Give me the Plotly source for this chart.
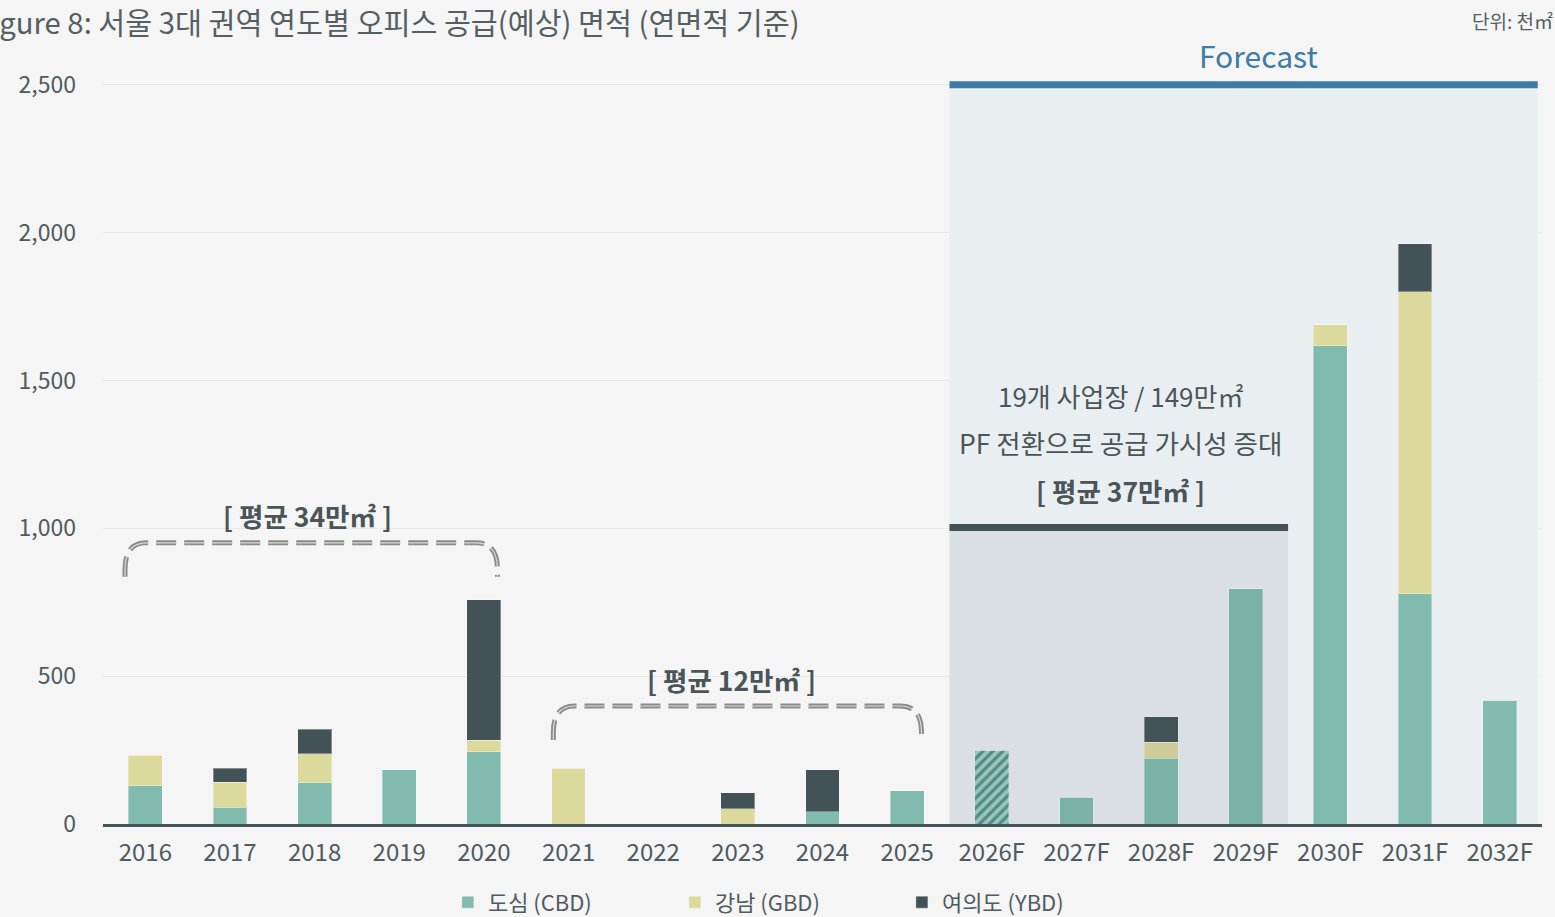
import plotly.graph_objects as go

# ---- data (천㎡) ----
categories = ["2016", "2017", "2018", "2019", "2020", "2021", "2022", "2023", "2024", "2025",
              "2026F", "2027F", "2028F", "2029F", "2030F", "2031F", "2032F"]
cbd = [130, 57, 139, 183, 244, 0, 0, 0, 41, 112, 250, 91, 223, 795, 1617, 778, 419]
gbd = [103, 85, 98, 0, 40, 189, 0, 51, 0, 0, 0, 0, 54, 0, 71, 1022, 0]
ybd = [0, 47, 84, 0, 474, 0, 0, 54, 142, 0, 0, 0, 85, 0, 0, 162, 0]
series_names = ["도심 (CBD)", "강남 (GBD)", "여의도 (YBD)"]
y_ticks = [0, 500, 1000, 1500, 2000, 2500]
hatched = ["2026F"]

FONT = "Noto Sans CJK KR"
C_CBD = "#80bbad"
C_GBD = "#dcd99d"
C_YBD = "#425256"
TXT = "#4f5b5e"

xs = list(range(len(categories)))

fig = go.Figure()
cbd_pattern = ["/" if c in hatched else "" for c in categories]
fig.add_trace(go.Bar(
    x=xs, y=cbd, name=series_names[0],
    marker=dict(color=C_CBD, line=dict(width=1, color="rgba(255,255,255,0.35)"),
                pattern=dict(shape=cbd_pattern, fgcolor="#4a9488", bgcolor="#a6cdc4",
                             size=7, solidity=0.45, fillmode="replace")),
))
fig.add_trace(go.Bar(x=xs, y=gbd, name=series_names[1],
                     marker=dict(color=C_GBD, line=dict(width=1, color="rgba(255,255,255,0.35)"))))
fig.add_trace(go.Bar(x=xs, y=ybd, name=series_names[2],
                     marker=dict(color=C_YBD, line=dict(width=1, color="rgba(255,255,255,0.35)"))))

shapes = []
# forecast region
shapes.append(dict(type="rect", xref="x", yref="y", x0=9.5, x1=16.45, y0=0, y1=2500,
                   fillcolor="#e9eef1", line=dict(width=0), layer="between"))
shapes.append(dict(type="line", xref="x", yref="y", x0=9.5, x1=16.45, y0=2500, y1=2500,
                   line=dict(color="#3e7ca6", width=7), layer="above"))
# near-term region
shapes.append(dict(type="rect", xref="x", yref="y", x0=9.5, x1=13.5, y0=0, y1=990,
                   fillcolor="rgba(80,95,110,0.10)", line=dict(width=0), layer="above"))
shapes.append(dict(type="line", xref="x", yref="y", x0=9.5, x1=13.5, y0=1003, y1=1003,
                   line=dict(color="#445256", width=7), layer="above"))


def bracket(x0, x1, yb, yt, dx=0.25, dy=90):
    ym = yt - dy
    return (f"M {x0},{yb} L {x0},{ym} Q {x0},{yt} {x0+dx},{yt} "
            f"L {x1-dx},{yt} Q {x1},{yt} {x1},{ym} L {x1},{yb}")


for (bx0, bx1, byb, byt) in [(-0.24, 4.16, 836, 951), (4.82, 9.17, 284, 399)]:
    p = bracket(bx0, bx1, byb, byt)
    shapes.append(dict(type="path", xref="x", yref="y", path=p,
                       line=dict(color="#8c8c8c", width=5, dash="20px,8px"), layer="above"))
    shapes.append(dict(type="path", xref="x", yref="y", path=p,
                       line=dict(color="#d8d8d8", width=1.2, dash="20px,8px"), layer="above"))

annotations = [
    dict(xref="paper", yref="paper", x=-0.090, y=1.061, xanchor="left", yanchor="middle",
         text="Figure 8: 서울 3대 권역 연도별 오피스 공급(예상) 면적 (연면적 기준)",
         showarrow=False, font=dict(family=FONT, size=29.3, color="#555f62")),
    dict(xref="paper", yref="paper", x=1.009, y=1.062, xanchor="right", yanchor="middle",
         text="단위: 천㎡", showarrow=False, font=dict(family=FONT, size=19, color="#555f62")),
    dict(xref="x", yref="paper", x=13.15, y=1.016, xanchor="center", yanchor="middle",
         text="Forecast", showarrow=False, font=dict(family=FONT, size=30, color="#3e7ca6")),
    dict(xref="x", yref="y", x=11.52, y=1448, text="19개 사업장 / 149만㎡", showarrow=False,
         font=dict(family=FONT, size=26, color="#4a5558")),
    dict(xref="x", yref="y", x=11.52, y=1289, text="PF 전환으로 공급 가시성 증대", showarrow=False,
         font=dict(family=FONT, size=26.5, color="#4a5558")),
    dict(xref="x", yref="y", x=11.52, y=1127, text="<b>[ 평균 37만㎡ ]</b>", showarrow=False,
         font=dict(family=FONT, size=26.5, color="#4a5558")),
    dict(xref="x", yref="y", x=1.92, y=1042, text="<b>[ 평균 34만㎡ ]</b>", showarrow=False,
         font=dict(family=FONT, size=26.5, color="#4a5558")),
    dict(xref="x", yref="y", x=6.92, y=487, text="<b>[ 평균 12만㎡ ]</b>", showarrow=False,
         font=dict(family=FONT, size=26.5, color="#4a5558")),
]

fig.update_layout(
    width=1555, height=917,
    margin=dict(l=103, r=13, t=67, b=93, autoexpand=False),
    paper_bgcolor="#f5f5f5", plot_bgcolor="#f5f5f5",
    barmode="stack", bargap=0.6,
    font=dict(family=FONT, color=TXT),
    shapes=shapes, annotations=annotations,
    showlegend=True,
    legend=dict(orientation="h", xref="container", yref="container",
                x=0.507, xanchor="center", y=0.016, yanchor="middle",
                font=dict(family=FONT, size=22, color=TXT),
                entrywidth=182, entrywidthmode="pixels", traceorder="normal",
                bgcolor="rgba(0,0,0,0)"),
)
fig.update_xaxes(range=[-0.5, 16.5], tickmode="array", tickvals=xs, ticktext=categories,
                 showgrid=False, showline=True, linecolor="#44555a", linewidth=2.5,
                 ticks="", tickfont=dict(family=FONT, size=24, color=TXT), zeroline=False,
                 ticklabelstandoff=5, automargin=False)
fig.update_yaxes(range=[0, 2560], tickmode="array", tickvals=y_ticks,
                 ticktext=[f"{v:,}" for v in y_ticks],
                 showgrid=True, gridcolor="#e9e9e9", gridwidth=1, zeroline=False,
                 showline=False, ticks="", ticklabelstandoff=26, automargin=False,
                 tickfont=dict(family=FONT, size=23, color=TXT))

fig.write_html("out.html", config={"displayModeBar": False},
               post_script="document.body.style.margin='0';")
